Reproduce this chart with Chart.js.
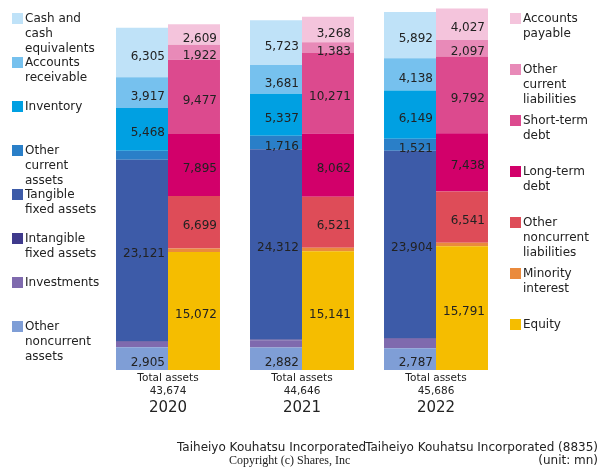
<!DOCTYPE html>
<html>
<head>
<meta charset="utf-8">
<script src="https://cdn.jsdelivr.net/npm/chart.js@4/dist/chart.umd.min.js"></script>
<style>
  html, body { margin: 0; padding: 0; background: #fff; }
  #wrap { width: 600px; height: 470px; position: relative; }
</style>
</head>
<body>
<div id="wrap"><canvas id="c" width="600" height="470"></canvas></div>
<script>
// ---- data (unit: mn) ----
const years = ['2020', '2021', '2022'];
const totalAssets = [43674, 44646, 45686];

// assets
const cashEquivalents = [6305, 5723, 5892];
const accountsReceivable = [3917, 3681, 4138];
const inventory = [5468, 5337, 6149];
const otherCurrentAssets = [1150, 1716, 1521];
const tangibleFixedAssets = [23121, 24312, 23904];
const intangibleFixedAssets = [100, 95, 95];
const investments = [708, 900, 1200];
const otherNoncurrentAssets = [2905, 2882, 2787];

// liabilities & equity
const accountsPayable = [2609, 3268, 4027];
const otherCurrentLiabilities = [1922, 1383, 2097];
const shortTermDebt = [9477, 10271, 9792];
const longTermDebt = [7895, 8062, 7438];
const otherNoncurrentLiabilities = [6699, 6521, 6541];
const minorityInterest = [450, 450, 450];
const equity = [15072, 15141, 15791];

// legend texts
const assetLegend = [
  ['Cash and', 'cash', 'equivalents'],
  ['Accounts', 'receivable'],
  ['Inventory'],
  ['Other', 'current', 'assets'],
  ['Tangible', 'fixed assets'],
  ['Intangible', 'fixed assets'],
  ['Investments'],
  ['Other', 'noncurrent', 'assets']
];
const liabilityLegend = [
  ['Accounts', 'payable'],
  ['Other', 'current', 'liabilities'],
  ['Short-term', 'debt'],
  ['Long-term', 'debt'],
  ['Other', 'noncurrent', 'liabilities'],
  ['Minority', 'interest'],
  ['Equity']
];
const assetColors = ['#bfe2f8', '#76c1ee', '#00a0e2', '#2a7fc8', '#3d5ba8', '#3f3a8c', '#7f6aae', '#7f9ed6'];
const liabilityColors = ['#f4c4dc', '#e88ab8', '#dc4a8e', '#d2006a', '#de4c58', '#ea8a3c', '#f5bd00'];

const assetSeries = [cashEquivalents, accountsReceivable, inventory, otherCurrentAssets,
  tangibleFixedAssets, intangibleFixedAssets, investments, otherNoncurrentAssets];
const liabilitySeries = [accountsPayable, otherCurrentLiabilities, shortTermDebt, longTermDebt,
  otherNoncurrentLiabilities, minorityInterest, equity];

const datasets = [];
// bottom-first order for stacking
for (let i = assetSeries.length - 1; i >= 0; i--) {
  datasets.push({ label: assetLegend[i].join(' '), data: assetSeries[i], backgroundColor: assetColors[i], stack: 'assets', borderWidth: 0 });
}
for (let i = liabilitySeries.length - 1; i >= 0; i--) {
  datasets.push({ label: liabilityLegend[i].join(' '), data: liabilitySeries[i], backgroundColor: liabilityColors[i], stack: 'liabilities', borderWidth: 0 });
}

const FONT = "'DejaVu Sans', sans-serif";
const TEXT = '#222';
const fmt = v => v.toLocaleString('en-US');

const overlay = {
  id: 'overlay',
  afterDatasetsDraw(chart) {
    const ctx = chart.ctx;
    ctx.save();
    ctx.font = '12px ' + FONT;
    ctx.fillStyle = TEXT;
    ctx.textAlign = 'right';
    ctx.textBaseline = 'middle';
    chart.data.datasets.forEach((ds, di) => {
      const meta = chart.getDatasetMeta(di);
      meta.data.forEach((el, i) => {
        const v = ds.data[i];
        if (v < 1300) return;
        const p = el.getProps(['x', 'y', 'base', 'width'], true);
        ctx.fillText(fmt(v), p.x + p.width / 2 - 3, (p.y + p.base) / 2 + 4);
      });
    });
    // captions below bars
    const xs = chart.scales.x;
    ctx.textAlign = 'center';
    years.forEach((yr, i) => {
      const cx = xs.getPixelForValue(i);
      ctx.font = '10.5px ' + FONT;
      ctx.fillText('Total assets', cx, 378);
      ctx.fillText(fmt(totalAssets[i]), cx, 391);
      ctx.font = '15px ' + FONT;
      ctx.fillText(yr, cx, 408);
    });
    // legends
    ctx.textAlign = 'left';
    ctx.font = '12px ' + FONT;
    assetLegend.forEach((lines, i) => {
      const y0 = 19 + 44 * i;
      ctx.fillStyle = assetColors[i];
      ctx.fillRect(12, y0 - 6, 11, 11);
      ctx.fillStyle = TEXT;
      lines.forEach((t, k) => ctx.fillText(t, 25, y0 + 15 * k));
    });
    liabilityLegend.forEach((lines, i) => {
      const y0 = 19 + 51 * i;
      ctx.fillStyle = liabilityColors[i];
      ctx.fillRect(510, y0 - 6, 11, 11);
      ctx.fillStyle = TEXT;
      lines.forEach((t, k) => ctx.fillText(t, 523, y0 + 15 * k));
    });
    // footer
    ctx.font = '12px ' + FONT;
    ctx.fillText('Taiheiyo Kouhatsu Incorporated', 177, 448);
    ctx.textAlign = 'right';
    ctx.fillText('Taiheiyo Kouhatsu Incorporated (8835)', 598, 448);
    ctx.fillText('(unit: mn)', 598, 461);
    ctx.textAlign = 'left';
    ctx.font = "12px 'Liberation Serif', serif";
    ctx.fillText('Copyright (c) Shares, Inc', 229, 461);
    ctx.restore();
  }
};

new Chart(document.getElementById('c'), {
  type: 'bar',
  data: { labels: years, datasets },
  options: {
    responsive: false,
    animation: false,
    events: [],
    layout: { padding: { left: 101, right: 97, top: 8, bottom: 100 } },
    plugins: { legend: { display: false }, tooltip: { enabled: false } },
    datasets: { bar: { barPercentage: 1, categoryPercentage: 0.776 } },
    scales: {
      x: { display: false, stacked: true, offset: true },
      y: { display: false, stacked: true, min: 0, max: 46200 }
    }
  },
  plugins: [overlay]
});
</script>
</body>
</html>
